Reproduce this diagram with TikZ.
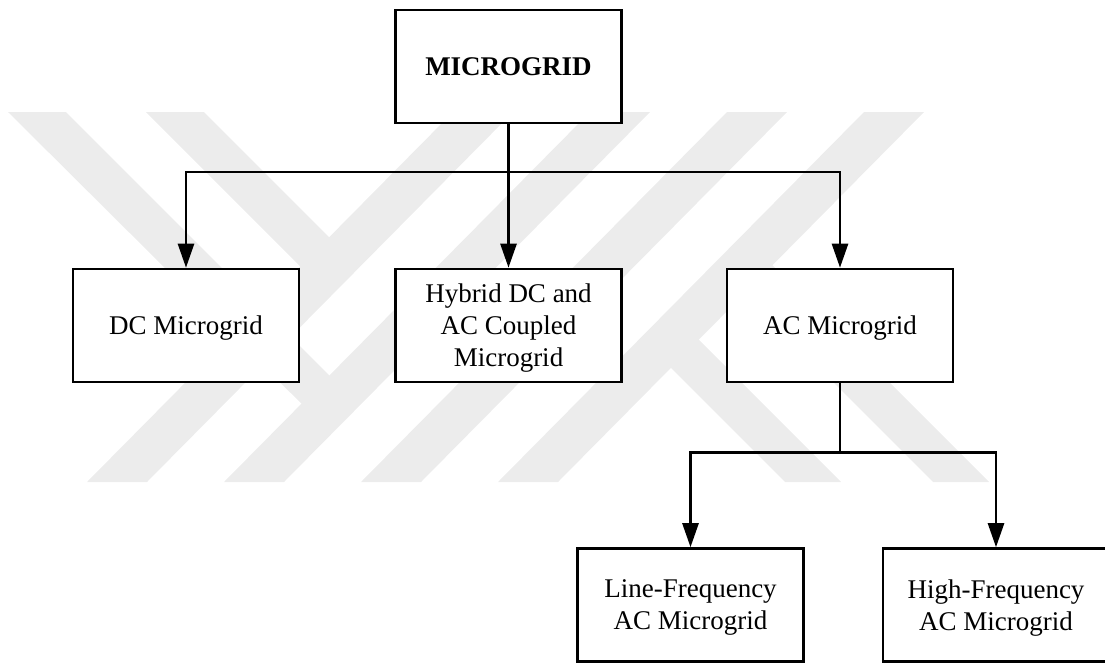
\documentclass[tikz,border=0pt]{standalone}
\usepackage{fontspec}
\setmainfont{Liberation Serif}
\usetikzlibrary{arrows.meta}
\definecolor{wmgray}{RGB}{236,236,236}
\begin{document}
\begin{tikzpicture}[x=1pt,y=-1pt,
  box/.style={draw=black, fill=white, line width=2.6pt, minimum width=226pt,
    minimum height=113pt, inner sep=0pt, align=center,
    font=\fontsize{27}{32}\selectfont, text depth=0pt},
  link/.style={line width=2.6pt},
  arr/.style={link, -{Triangle[length=24pt,width=16pt]}},
  wm/.style={fill=wmgray, draw=none}]
\useasboundingbox (0,0) rectangle (1105,662);
% watermark stripes
\fill[wm] (87,482) -- (147,482) -- (513,112) -- (453,112) -- cycle;
\fill[wm] (224,482) -- (284,482) -- (650,112) -- (590,112) -- cycle;
\fill[wm] (361,482) -- (421,482) -- (787,112) -- (727,112) -- cycle;
\fill[wm] (498,482) -- (558,482) -- (924,112) -- (864,112) -- cycle;
\fill[wm] (8,112) -- (66,112) -- (358,404) -- (330,432) -- cycle;
\fill[wm] (146,112) -- (204,112) -- (359,267) -- (330,296) -- cycle;
\fill[wm] (785,482) -- (841,482) -- (670,311) -- (642,339) -- cycle;
\fill[wm] (933,482) -- (989,482) -- (744,237) -- (716,265) -- cycle;
% boxes
\node[box] (top) at (508.5,66.5) {\textbf{MICROGRID}};
\node[box] (dc) at (186,325.5) {DC Microgrid};
\node[box] (hy) at (508.5,325.5) {Hybrid DC and\\AC Coupled\\Microgrid};
\node[box] (ac) at (840,325.5) {AC Microgrid};
\node[box] (lf) at (690.5,605) {Line-Frequency\\AC Microgrid};
\node[box] (hf) at (996,605) {High-Frequency\\AC Microgrid};
% connectors
\coordinate (j1) at (508.5,172);
\coordinate (j2) at (840,452.5);
\draw[arr] (top.south) -- (hy.north);
\draw[arr] (j1) -| (dc.north);
\draw[arr] (j1) -| (ac.north);
\draw[link] (ac.south) -- (j2);
\draw[arr] (j2) -| (lf.north);
\draw[arr] (j2) -| (hf.north);
\end{tikzpicture}
\end{document}
